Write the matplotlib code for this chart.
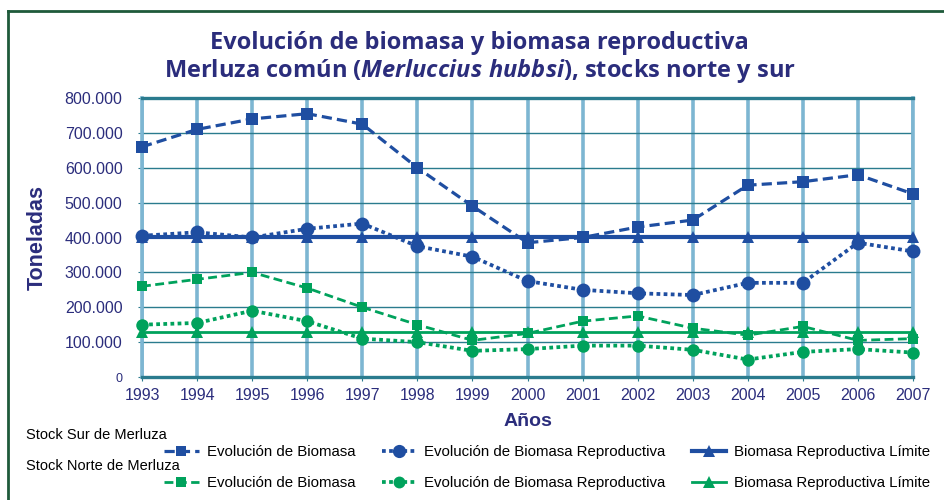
"""Evolución de biomasa y biomasa reproductiva, merluza común, stocks norte y sur."""
import matplotlib

matplotlib.use("Agg")
import matplotlib.pyplot as plt
from matplotlib.lines import Line2D
from matplotlib.ticker import FuncFormatter

years = list(range(1993, 2008))

# Stock Sur
sur_biomasa = [660000, 710000, 740000, 755000, 725000, 600000, 490000, 385000,
               400000, 430000, 450000, 550000, 560000, 580000, 525000]
sur_reproductiva = [405000, 415000, 400000, 425000, 440000, 375000, 345000, 275000,
                    250000, 240000, 235000, 270000, 270000, 385000, 360000]
sur_limite = [400000] * 15

# Stock Norte
norte_biomasa = [260000, 280000, 300000, 255000, 200000, 150000, 105000, 125000,
                 160000, 175000, 140000, 120000, 145000, 105000, 110000]
norte_reproductiva = [150000, 155000, 190000, 160000, 110000, 100000, 75000, 80000,
                      90000, 90000, 78000, 50000, 72000, 80000, 70000]
norte_limite = [130000] * 15

yticks = [0, 100000, 200000, 300000, 400000, 500000, 600000, 700000, 800000]

BLUE = "#1f4ea1"
GREEN = "#00a25c"
NAVY = "#2b2d7c"
VGRID = "#7db6d2"
HGRID = "#2a7b8e"
FRAME = "#1e5a3a"

plt.rcParams["font.family"] = ["Liberation Sans", "DejaVu Sans"]
plt.rcParams["mathtext.fontset"] = "custom"
plt.rcParams["mathtext.it"] = "Open Sans:italic:bold"
plt.rcParams["mathtext.rm"] = "Open Sans:bold"

fig = plt.figure(figsize=(9.44, 5.0), dpi=100)
ax = fig.add_axes([142 / 944, 1 - 377 / 500, (913 - 142) / 944, (377 - 98) / 500])

dash = (0, (3.2, 1.6))
dot = (0, (1.0, 0.9))

series = [
    (sur_biomasa, BLUE, dash, "s", 8, 2.3),
    (sur_reproductiva, BLUE, dot, "o", 10, 2.7),
    (sur_limite, BLUE, "-", "^", 9, 3.0),
    (norte_biomasa, GREEN, dash, "s", 7.5, 2.0),
    (norte_reproductiva, GREEN, dot, "o", 9, 2.7),
    (norte_limite, GREEN, "-", "^", 8.5, 2.0),
]
handles = []
for vals, col, ls, mk, ms, lw in series:
    (h,) = ax.plot(years, vals, color=col, linestyle=ls, linewidth=lw, marker=mk,
                   markersize=ms, markeredgewidth=0, clip_on=False, zorder=3)
    handles.append(h)

ax.set_xlim(1993, 2007)
ax.set_ylim(0, 800000)
ax.set_xticks(years)
ax.set_yticks(yticks)
ax.yaxis.set_major_formatter(FuncFormatter(lambda v, _: "0" if v == 0 else f"{int(v):,}".replace(",", ".")))

ax.set_axisbelow(True)
ax.grid(axis="x", color=VGRID, linewidth=2.6)
ax.grid(axis="y", color=HGRID, linewidth=1.0)
for side in ("top", "bottom"):
    ax.spines[side].set_color(HGRID)
    ax.spines[side].set_linewidth(2.4)
for side in ("left", "right"):
    ax.spines[side].set_color(VGRID)
    ax.spines[side].set_linewidth(2.6)

ax.tick_params(axis="both", colors=HGRID, labelcolor=NAVY, labelsize=11.5, length=3)
ax.tick_params(axis="y", pad=11)
ax.tick_params(axis="x", pad=5)
ax.get_yticklabels()[0].set_fontsize(9)

ax.set_ylabel("Toneladas", color=NAVY, fontsize=15.5, fontweight="bold", labelpad=12)
ax.set_xlabel("Años", color=NAVY, fontsize=14, fontweight="bold", labelpad=7)

title_font = dict(ha="center", va="center", color=NAVY, fontsize=17,
                  fontweight="bold", family=["Open Sans", "DejaVu Sans"])
fig.text(0.508, 1 - 43 / 500, "Evolución de biomasa y biomasa reproductiva", **title_font)
fig.text(0.508, 1 - 71 / 500,
         r"Merluza común $\it{(Merluccius\ hubbsi)}$, stocks norte y sur", **title_font)

# Leyenda
fig.text(26 / 944, 1 - 435 / 500, "Stock Sur de Merluza", fontsize=10.5, va="center")
fig.text(26 / 944, 1 - 466 / 500, "Stock Norte de Merluza", fontsize=10.5, va="center")
labels = ["Evolución de Biomasa", "Evolución de Biomasa Reproductiva",
          "Biomasa Reproductiva Límite"]
for hs, ypix in [(handles[:3], 452), (handles[3:], 483)]:
    fig.legend(hs, labels, ncol=3, loc="center left",
               bbox_to_anchor=(164 / 944, 1 - ypix / 500), frameon=False,
               fontsize=10.8, handlelength=2.3, columnspacing=1.75, handletextpad=0.55,
               borderpad=0, borderaxespad=0, markerscale=0.95)

fig.add_artist(Line2D([8 / 944, 1], [1 - 11 / 500, 1 - 11 / 500], color=FRAME,
                      linewidth=2, transform=fig.transFigure))
fig.add_artist(Line2D([8 / 944, 8 / 944], [0, 1 - 11 / 500], color=FRAME,
                      linewidth=2, transform=fig.transFigure))

fig.savefig("out.png", dpi=100)
